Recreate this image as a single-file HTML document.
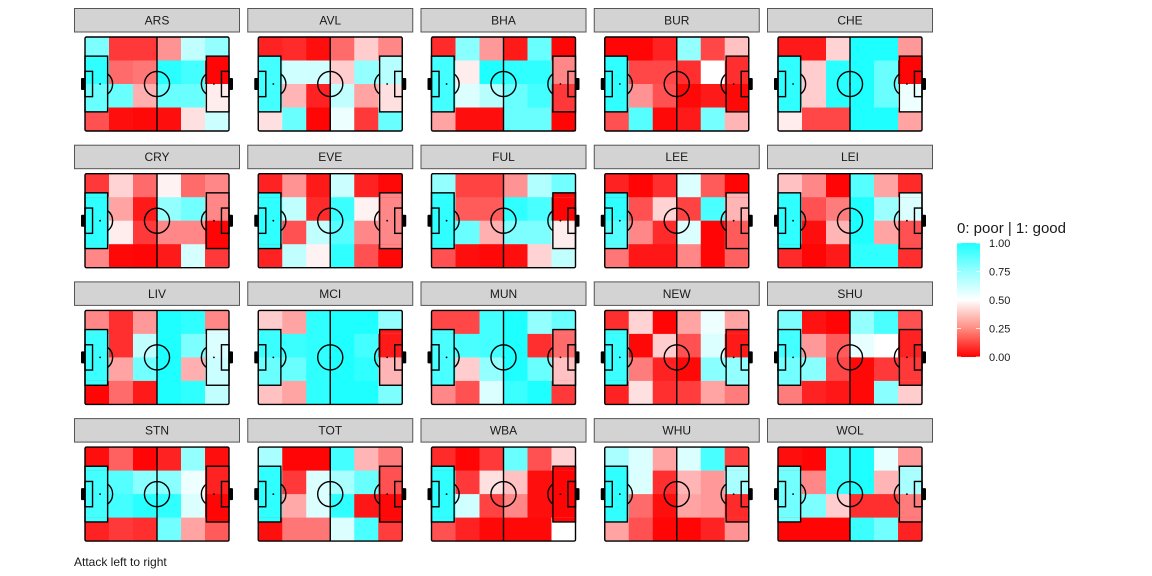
<!DOCTYPE html>
<html><head><meta charset="utf-8"><style>
html,body{margin:0;padding:0;background:#fff;}
svg{display:block;font-family:"Liberation Sans",Arial,sans-serif;}
</style></head><body>
<svg id="chart" width="1152" height="576" viewBox="0 0 1152 576" xmlns="http://www.w3.org/2000/svg">
<defs>
<linearGradient id="lg" x1="0" y1="1" x2="0" y2="0">
<stop offset="0" stop-color="rgb(255,0,0)"/>
<stop offset="0.25" stop-color="rgb(255,140,128)"/>
<stop offset="0.5" stop-color="rgb(255,255,255)"/>
<stop offset="0.75" stop-color="rgb(150,255,255)"/>
<stop offset="1" stop-color="rgb(30,255,255)"/>
</linearGradient>
</defs>
<g id="panels"></g>
<g>
<text x="957" y="233" font-size="15" fill="#1a1a1a">0: poor | 1: good</text>
<rect x="957" y="243" width="23" height="114" fill="url(#lg)"/>
<g id="legticks"></g>
</g>
<text x="74" y="566" font-size="12" fill="#1a1a1a">Attack left to right</text>
</svg>
<script>
const teams = ["ARS","AVL","BHA","BUR","CHE","CRY","EVE","FUL","LEE","LEI","LIV","MCI","MUN","NEW","SHU","STN","TOT","WBA","WHU","WOL"];
// each team: 4 rows (top to bottom) x 6 columns (left to right)
const ARS = [[0.75,0.15,0.15,0.32,0.6,0.7],[0.95,0.25,0.27,0.97,0.9,0.02],[0.8,0.8,0.37,0.8,0.8,0.47],[0.2,0.05,0.03,0.05,0.45,0.58]];
const AVL = [[0.1,0.12,0.05,0.25,0.42,0.3],[0.9,0.57,0.57,0.42,0.7,0.62],[0.9,0.38,0.1,0.6,0.35,0.45],[0.45,0.8,0.02,0.52,0.15,0.8]];
const BHA = [[0.12,0.72,0.33,0.08,0.8,0.02],[0.9,0.47,1.0,0.95,0.95,0.3],[0.9,0.55,0.62,0.8,0.9,0.15],[0.35,0.05,0.05,0.8,0.8,0.02]];
const BUR = [[0.02,0.02,0.1,0.7,0.18,0.4],[0.95,0.18,0.18,0.13,0.5,0.13],[0.95,0.32,0.2,0.03,0.08,0.03],[0.2,0.85,0.03,0.08,0.77,0.38]];
const CHE = [[0.08,0.08,0.43,1.0,1.0,0.33],[0.95,0.42,0.97,1.0,0.8,0.02],[0.95,0.42,0.97,1.0,0.8,0.52],[0.47,0.18,0.18,1.0,1.0,0.35]];
const CRY = [[0.15,0.43,0.25,0.48,0.25,0.3],[0.95,0.35,0.08,0.7,0.78,0.3],[0.95,0.47,0.15,0.3,0.3,0.02],[0.3,0.03,0.02,0.08,0.56,0.15]];
const EVE = [[0.1,0.32,0.08,0.58,0.1,0.03],[0.95,0.6,0.12,0.92,0.48,0.3],[0.95,0.2,0.6,0.85,0.3,0.3],[0.1,0.6,0.48,0.95,0.2,0.03]];
const FUL = [[0.7,0.17,0.17,0.32,0.63,0.78],[0.95,0.22,0.22,0.95,0.88,0.02],[0.95,0.8,0.37,0.75,0.75,0.47],[0.2,0.05,0.03,0.05,0.43,0.6]];
const LEE = [[0.1,0.02,0.13,0.55,0.22,0.02],[0.95,0.2,0.43,0.17,0.88,0.38],[0.85,0.3,0.12,0.55,0.02,0.22],[0.27,0.07,0.07,0.3,0.02,0.23]];
const LEI = [[0.4,0.3,0.02,0.85,0.35,0.12],[0.95,0.2,0.28,1.0,0.68,0.55],[0.95,0.05,0.38,1.0,0.35,0.2],[0.12,0.02,0.08,0.95,0.95,0.13]];
const LIV = [[0.3,0.13,0.33,1.0,0.95,0.3],[0.92,0.13,0.6,1.0,0.75,0.55],[0.92,0.35,0.78,1.0,0.37,0.58],[0.02,0.25,0.08,1.0,0.95,0.6]];
const MCI = [[0.42,0.35,0.95,1.0,1.0,0.7],[0.92,0.92,0.95,1.0,0.9,0.08],[0.8,0.8,0.95,1.0,0.95,0.38],[0.4,0.35,0.95,1.0,1.0,0.75]];
const MUN = [[0.18,0.18,0.9,1.0,0.7,0.8],[0.88,0.88,0.9,1.0,0.13,0.25],[0.88,0.42,0.7,1.0,0.8,0.4],[0.3,0.2,0.55,0.92,1.0,0.15]];
const NEW = [[0.13,0.43,0.02,0.35,0.52,0.35],[0.92,0.03,0.42,0.2,0.55,0.08],[0.92,0.28,0.1,0.03,0.72,0.7],[0.1,0.45,0.13,0.16,0.35,0.28]];
const SHU = [[0.75,0.06,0.02,0.7,0.88,0.2],[0.9,0.33,0.22,0.53,0.5,0.1],[0.78,0.72,0.18,0.03,0.15,0.15],[0.28,0.1,0.07,0.03,0.72,0.42]];
const STN = [[0.05,0.23,0.02,0.1,0.7,0.05],[0.9,0.85,0.72,0.72,0.52,0.1],[0.9,0.9,0.97,0.95,0.55,0.02],[0.1,0.15,0.13,0.78,0.35,0.22]];
const TOT = [[0.65,0.02,0.02,0.9,0.38,0.28],[0.95,0.15,0.55,0.65,0.8,0.2],[0.95,0.36,0.55,0.95,0.07,0.03],[0.05,0.27,0.27,0.55,0.88,0.16]];
const WBA = [[0.12,0.02,0.15,0.8,0.2,0.43],[0.95,0.15,0.45,0.4,0.05,0.02],[0.95,0.57,0.17,0.3,0.05,0.02],[0.2,0.1,0.03,0.03,0.03,0.5]];
const WHU = [[0.65,0.55,0.35,0.55,0.88,0.17],[0.95,0.55,0.13,0.38,0.33,0.65],[0.95,0.25,0.05,0.35,0.33,0.12],[0.35,0.2,0.02,0.02,0.1,0.32]];
const WOL = [[0.05,0.02,0.92,1.0,0.53,0.33],[0.78,0.3,0.92,1.0,0.38,0.65],[0.78,0.75,0.42,0.13,0.13,0.28],[0.02,0.02,0.02,0.92,0.78,0.1]];
const teamValues = [ARS,AVL,BHA,BUR,CHE,CRY,EVE,FUL,LEE,LEI,LIV,MCI,MUN,NEW,SHU,STN,TOT,WBA,WHU,WOL];
const legendTicks = [0,0.25,0.5,0.75,1];
const legendLabels = ["0.00","0.25","0.50","0.75","1.00"];

const NS = "http://www.w3.org/2000/svg";
function mk(tag, attrs, parent){const e=document.createElementNS(NS,tag);for(const k in attrs)e.setAttribute(k,attrs[k]);parent.appendChild(e);return e;}
function lerp(a,b,t){return Math.round(a+(b-a)*t);}
function color(v){
  v=Math.max(0,Math.min(1,v));
  if(v<=0.5){const t=v/0.5;const g=Math.pow(t,1.25);return `rgb(255,${lerp(0,255,g)},${lerp(0,255,g)})`;}
  const t=(v-0.5)/0.5;const g=Math.pow(t,0.8);return `rgb(${lerp(255,30,g)},255,255)`;
}
const panels=document.getElementById('panels');
const PW=144, PH=94;
function sx(x0,m){return x0+m/105*PW;}
function sy(y0,m){return y0+m/68*PH;}
teams.forEach((team,i)=>{
  const c=i%5, r=Math.floor(i/5);
  const stripX=74+c*173.25, stripY=8+r*136.7;
  const g=mk('g',{},panels);
  
  
  const strip=mk('rect',{x:stripX+0.5,y:stripY+0.5,width:165,height:23.5,fill:'#d3d3d3',stroke:'#555','stroke-width':1},g);
  
  
  const st=mk('text',{x:stripX+83,y:stripY+16.5,'font-size':12,'text-anchor':'middle',fill:'#1a1a1a'},g);
  st.textContent=team;
  
  
  const x0=stripX+11, y0=stripY+29;
  const vals=teamValues[i];
  const cw=PW/6, ch=PH/4;
  for(let row=0;row<4;row++)for(let col=0;col<6;col++){
    const cell=mk('rect',{x:x0+col*cw,y:y0+row*ch,width:cw+0.4,height:ch+0.4,fill:color(vals[row][col])},g);
    
    
  }
  // penalty-box zone extensions
  const bw=16.5/105*PW, bt=sy(y0,13.85), bb=sy(y0,54.15);
  [[0,x0],[5,x0+PW-bw]].forEach(([col,bx])=>{
    const e1=mk('rect',{x:bx,y:bt,width:bw,height:y0+ch-bt,fill:color(vals[1][col])},g);
    
    
    const e2=mk('rect',{x:bx,y:y0+3*ch,width:bw,height:bb-(y0+3*ch),fill:color(vals[2][col])},g);
    
    
  });
  const L={fill:'none',stroke:'#000','stroke-width':1.4};
  const lines=mk('g',L,g);
  
  
  mk('rect',{x:x0,y:y0,width:PW,height:PH,rx:1.5},lines);
  mk('line',{x1:x0+PW/2,y1:y0,x2:x0+PW/2,y2:y0+PH},lines);
  const cr=9.15/105*PW;
  mk('circle',{cx:x0+PW/2,cy:y0+PH/2,r:cr},lines);
  // boxes
  mk('rect',{x:x0,y:bt,width:bw,height:bb-bt},lines);
  mk('rect',{x:x0+PW-bw,y:bt,width:bw,height:bb-bt},lines);
  const sw=5.5/105*PW, st6=sy(y0,24.85), sb6=sy(y0,43.15);
  mk('rect',{x:x0,y:st6,width:sw,height:sb6-st6},lines);
  mk('rect',{x:x0+PW-sw,y:st6,width:sw,height:sb6-st6},lines);
  // penalty arcs
  const th=Math.acos(5.5/9.15), py=y0+PH/2;
  const lp=sx(x0,11), rp=sx(x0,94);
  mk('path',{d:`M${lp+cr*Math.cos(th)} ${py-cr*Math.sin(th)} A${cr} ${cr} 0 0 1 ${lp+cr*Math.cos(th)} ${py+cr*Math.sin(th)}`},lines);
  mk('path',{d:`M${rp-cr*Math.cos(th)} ${py-cr*Math.sin(th)} A${cr} ${cr} 0 0 0 ${rp-cr*Math.cos(th)} ${py+cr*Math.sin(th)}`},lines);
  // spots
  [lp,rp,x0+PW/2].forEach(px=>{mk('circle',{cx:px,cy:py,r:0.9,fill:'#000'},g);});
  // goals
  mk('rect',{x:x0-4,y:py-6,width:4,height:12,fill:'#000',rx:1},g);
  mk('rect',{x:x0+PW,y:py-6,width:4,height:12,fill:'#000',rx:1},g);
});
const lt=document.getElementById('legticks');
legendTicks.forEach((v,k)=>{
  const y=357-v*114;
  mk('line',{x1:957,y1:y,x2:961,y2:y,stroke:'#fff','stroke-width':0.8},lt);
  mk('line',{x1:976,y1:y,x2:980,y2:y,stroke:'#fff','stroke-width':0.8},lt);
  const t=mk('text',{x:989,y:y+4,'font-size':11,fill:'#1a1a1a'},lt);
  t.textContent=legendLabels[k];
  
  
});
</script>
</body></html>
